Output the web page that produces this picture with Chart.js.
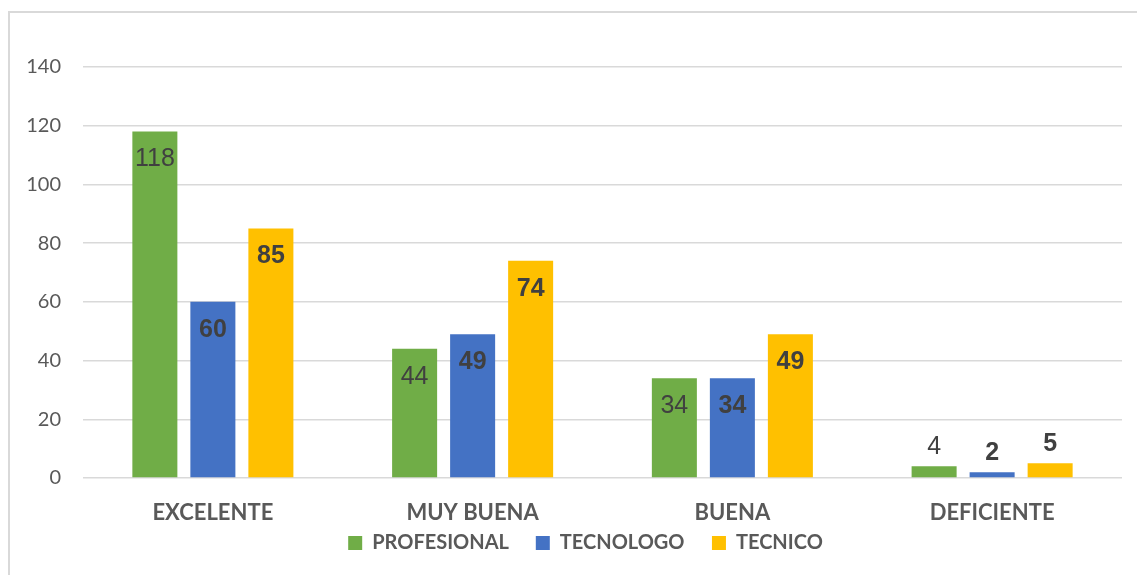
<!DOCTYPE html>
<html>
<head>
<meta charset="utf-8">
<script src="https://cdn.jsdelivr.net/npm/chart.js@4/dist/chart.umd.min.js"></script>
<style>
  body { margin: 0; background: #fff; }
  #frame { position: absolute; left: 8px; top: 11px; width: 1140px; height: 580px; border: 2px solid #d9d9d9; }
  #wrap { position: absolute; left: 0; top: 0; width: 1137px; height: 575px; }
</style>
</head>
<body>
<div id="frame"></div>
<div id="wrap"><canvas id="c"></canvas></div>
<script>
// chart data
var categories = ["EXCELENTE", "MUY BUENA", "BUENA", "DEFICIENTE"];
var profesional = [118, 44, 34, 4];
var tecnologo = [60, 49, 34, 2];
var tecnico = [85, 74, 49, 5];

var cGreen = "#70ad47";
var cBlue = "#4472c4";
var cYellow = "#ffc000";

// small plugin for the value labels on the bars
var barLabels = {
    id: 'barLabels',
    afterDatasetsDraw: function (chart) {
        var ctx = chart.ctx;
        ctx.save();
        ctx.textAlign = 'center';
        ctx.textBaseline = 'middle';
        ctx.fillStyle = '#404040';
        chart.data.datasets.forEach(function (ds, i) {
            var meta = chart.getDatasetMeta(i);
            var bold = i > 0;
            ctx.font = (bold ? 'bold ' : '') + '25px "Liberation Sans", Arial, sans-serif';
            meta.data.forEach(function (bar, j) {
                var h = bar.base - bar.y;
                var y;
                if (h > 40) {
                    y = bar.y + 28;
                } else {
                    y = bar.y - 19;
                }
                ctx.fillText(String(ds.data[j]), bar.x, y);
            });
        });
        ctx.restore();
    }
};

var ctx = document.getElementById('c').getContext('2d');
new Chart(ctx, {
    type: 'bar',
    data: {
        labels: categories,
        datasets: [
            { label: 'PROFESIONAL', data: profesional, backgroundColor: cGreen },
            { label: 'TECNOLOGO', data: tecnologo, backgroundColor: cBlue },
            { label: 'TECNICO', data: tecnico, backgroundColor: cYellow }
        ]
    },
    options: {
        responsive: true,
        maintainAspectRatio: false,
        animation: false,
        categoryPercentage: 0.67,
        barPercentage: 0.776,
        layout: { padding: { left: 0, right: 15, top: 67, bottom: 12 } },
        scales: {
            x: {
                grid: { display: false, drawTicks: false },
                border: { display: false },
                ticks: { color: '#595959', padding: 22, font: { size: 22, weight: 'bold', family: 'Lato' } },
                afterFit: function (s) { s.height = 47; }
            },
            y: {
                min: 0,
                max: 140,
                ticks: { stepSize: 20, color: '#595959', padding: 22, font: { size: 20, family: 'Lato' } },
                grid: { color: '#d9d9d9', lineWidth: 1.5, drawTicks: false },
                border: { display: false },
                afterFit: function (s) { s.width = 83; }
            }
        },
        plugins: {
            legend: {
                position: 'bottom',
                fullSize: false,
                labels: {
                    color: '#595959',
                    boxWidth: 14,
                    boxHeight: 14,
                    padding: 8,
                    font: { size: 20, weight: 'bold', family: 'Lato' },
                    // extra room after the names so the items sit apart like the original
                    generateLabels: function (chart) {
                        var items = Chart.defaults.plugins.legend.labels.generateLabels(chart);
                        for (var k = 0; k < items.length; k++) {
                            var pad = k < items.length - 1 ? 4 : 7;
                            items[k].text = items[k].text + '\u00a0'.repeat(pad);
                        }
                        return items;
                    }
                }
            },
            tooltip: { enabled: false }
        }
    },
    plugins: [barLabels]
});
</script>
</body>
</html>
